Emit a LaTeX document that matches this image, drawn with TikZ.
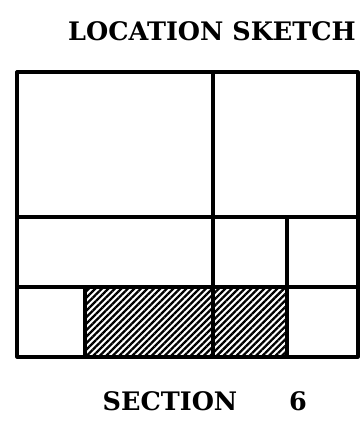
\documentclass[tikz,border=0pt]{standalone}
\usepackage{fontspec}
\setmainfont{DejaVu Serif}
\usetikzlibrary{patterns.meta}
\begin{document}
\begin{tikzpicture}[x=1pt,y=-1pt,
  wall/.style={line width=3.2pt,line cap=round,line join=round},
  hatch/.style={pattern={Lines[angle=45,distance=4.6pt,line width=2.3pt]}},
  label/.style={font=\fontsize{25.5}{26}\selectfont\bfseries,inner sep=0pt}]
\useasboundingbox (0,0) rectangle (361,423);
\fill[hatch] (85,287) rectangle (287,357);
\draw[wall] (17,72) rectangle (358,357);
\draw[wall] (213,72) -- (213,357);
\draw[wall] (17,217) -- (358,217);
\draw[wall] (17,287) -- (358,287);
\draw[wall] (287,217) -- (287,357);
\draw[wall] (85,287) -- (85,357);
\node[label] (title) at (212,31) {LOCATION SKETCH};
\node[label] (section) at (170,401) {SECTION};
\node[label] (number) at (298,401) {6};
\end{tikzpicture}
\end{document}
